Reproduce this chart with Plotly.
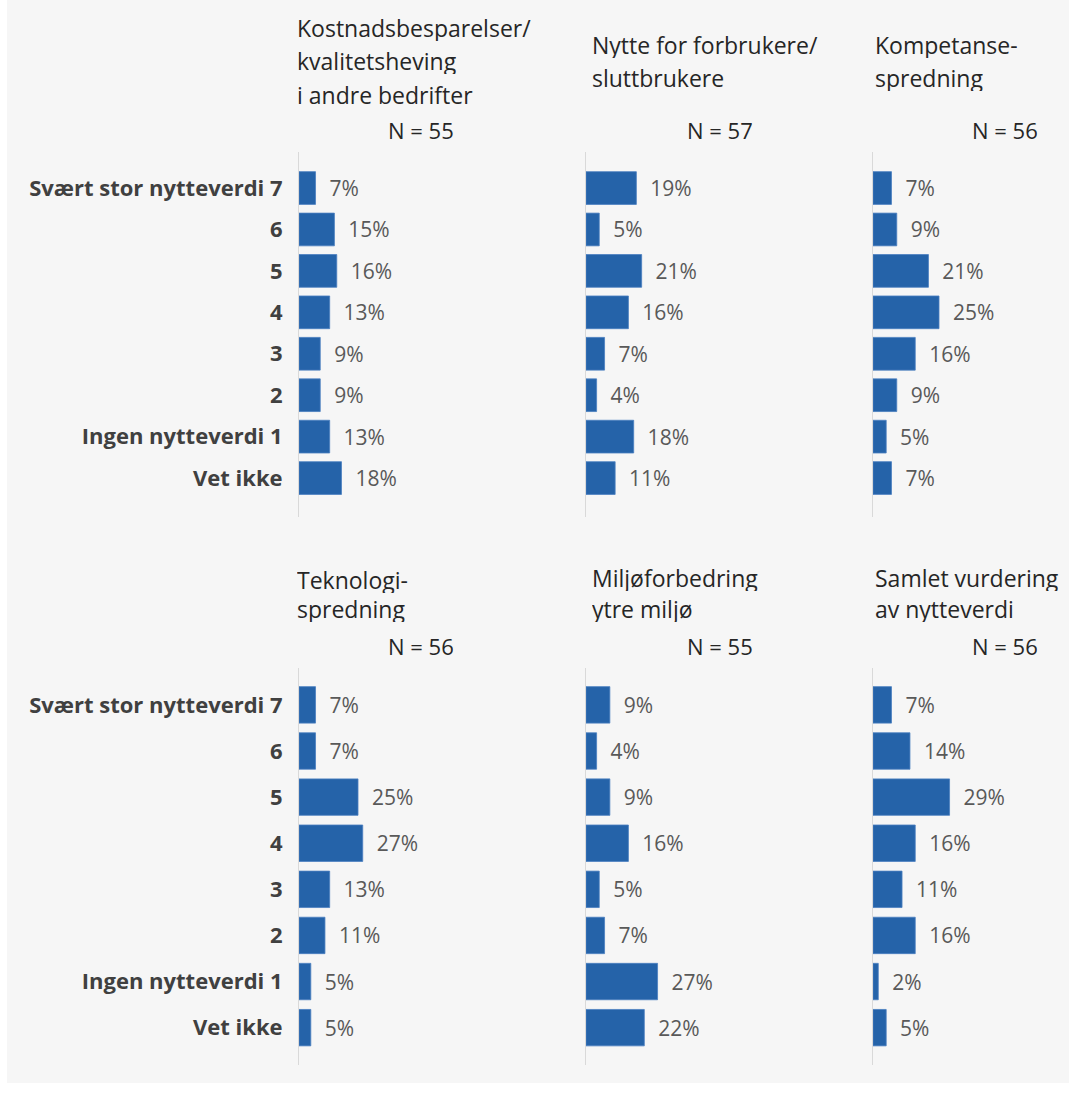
import plotly.graph_objects as go

W, H = 1069, 1093

categories = ["Svært stor nytteverdi 7", "6", "5", "4", "3", "2", "Ingen nytteverdi 1", "Vet ikke"]

kostnad = [7, 15, 16, 13, 9, 9, 13, 18]
forbruker = [19, 5, 21, 16, 7, 4, 18, 11]
kompetanse = [7, 9, 21, 25, 16, 9, 5, 7]
teknologi = [7, 7, 25, 27, 13, 11, 5, 5]
miljo = [9, 4, 9, 16, 5, 7, 27, 22]
samlet = [7, 14, 29, 16, 11, 16, 2, 5]

titles = [
    ["Kostnadsbesparelser/", "kvalitetsheving", "i andre bedrifter"],
    ["Nytte for forbrukere/", "sluttbrukere"],
    ["Kompetanse-", "spredning"],
    ["Teknologi-", "spredning"],
    ["Miljøforbedring", "ytre miljø"],
    ["Samlet vurdering", "av nytteverdi"],
]
n_labels = ["N = 55", "N = 57", "N = 56", "N = 56", "N = 55", "N = 56"]
series = [kostnad, forbruker, kompetanse, teknologi, miljo, samlet]

FONT = "Open Sans"
BAR = "#2563a9"

# layout geometry (pixels)
col_x0 = [299, 586, 873]
col_w = [230, 230, 180]
col_pxpp = [2.36, 2.65, 2.64]
row_top = [152, 668]
row_bot = [517, 1065]
row_range = [[7.94, -0.87], [7.81, -0.80]]

# title positions (pixels)
title_left = [296, 591, 874]
n_right = [455, 754, 1039]
title_baselines = [
    [[35, 68, 102], [52, 85], [52, 85]],
    [[587, 616], [585, 616], [585, 616]],
]
n_baseline = [137, 653]

fig = go.Figure()
annotations = []
layout_axes = {}

for i, vals in enumerate(series):
    r, c = divmod(i, 3)
    k = i + 1
    xa = "x" if k == 1 else f"x{k}"
    ya = "y" if k == 1 else f"y{k}"
    fig.add_trace(go.Bar(
        x=vals, y=categories, orientation="h",
        xaxis=xa, yaxis=ya,
        marker=dict(color=BAR, line=dict(color="#4a7fc0", width=0.8)),
        text=[f"\u00a0\u00a0{v}%" for v in vals],
        textposition="outside", constraintext="none", cliponaxis=False,
        textfont=dict(family=FONT, size=21, color="#595959"),
        showlegend=False, hoverinfo="skip",
    ))
    x0 = col_x0[c]
    w = col_w[c]
    layout_axes["xaxis" if k == 1 else f"xaxis{k}"] = dict(
        domain=[x0 / W, (x0 + w) / W],
        range=[0, w / col_pxpp[c]],
        visible=False, anchor=ya, fixedrange=True,
    )
    layout_axes["yaxis" if k == 1 else f"yaxis{k}"] = dict(
        domain=[1 - row_bot[r] / H, 1 - row_top[r] / H],
        type="category", categoryorder="array", categoryarray=categories,
        range=row_range[r],
        showline=True, linecolor="#d9d9d9", linewidth=1,
        showgrid=False, zeroline=False, ticks="",
        showticklabels=(c == 0), ticklabelstandoff=11,
        tickfont=dict(family=FONT, size=22, color="#404040", weight="bold"),
        anchor=xa, fixedrange=True,
    )
    # titles
    for line, yb in zip(titles[i], title_baselines[r][c]):
        annotations.append(dict(
            text=line, xref="paper", yref="paper",
            x=title_left[c] / W, y=1 - (yb - 7) / H,
            xanchor="left", yanchor="middle", showarrow=False,
            height=26, valign="middle", borderpad=0,
            font=dict(family=FONT, size=23, color="#262626"),
        ))
    annotations.append(dict(
        text=n_labels[i], xref="paper", yref="paper",
        x=n_right[c] / W, y=1 - (n_baseline[r] - 7) / H,
        xanchor="right", yanchor="middle", showarrow=False,
        height=26, valign="middle", borderpad=0,
        font=dict(family=FONT, size=22, color="#262626"),
    ))

fig.update_layout(
    width=W, height=H,
    margin=dict(l=0, r=0, t=0, b=0),
    paper_bgcolor="white", plot_bgcolor="rgba(0,0,0,0)",
    bargap=0.21,
    annotations=annotations,
    shapes=[dict(type="rect", xref="paper", yref="paper",
                 x0=7 / W, x1=1.0, y0=1 - 1083 / H, y1=1.0,
                 fillcolor="#f6f6f6", line=dict(width=0), layer="below")],
    **layout_axes,
)

fig.write_html(
    "out.html",
    config={"displayModeBar": False},
    post_script="document.body.style.margin='0';document.body.style.overflow='hidden';",
)
